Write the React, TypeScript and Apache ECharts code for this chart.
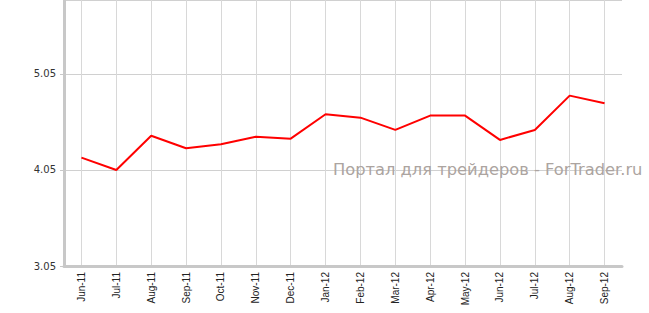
import React, { useEffect, useRef } from "react";
import * as echarts from "echarts";

const categories = ["Jun-11","Jul-11","Aug-11","Sep-11","Oct-11","Nov-11","Dec-11","Jan-12","Feb-12","Mar-12","Apr-12","May-12","Jun-12","Jul-12","Aug-12","Sep-12"];
const values = [4.178, 4.05, 4.407, 4.276, 4.318, 4.397, 4.376, 4.63, 4.595, 4.467, 4.616, 4.616, 4.363, 4.467, 4.824, 4.745];
const yMin = 3.05;
const yMax = 5.82;
const yStep = 1;
const watermark = "Портал для трейдеров - ForTrader.ru";

export default function App() {
  const ref = useRef<HTMLDivElement>(null);
  useEffect(() => {
    document.body.style.margin = "0";
    const chart = echarts.init(ref.current!, null, { renderer: "svg" });
    chart.setOption({
      animation: false,
      grid: { left: 64, right: 27, top: 0, bottom: 47 },
      xAxis: {
        type: "category",
        data: categories,
        boundaryGap: true,
        axisLine: { lineStyle: { color: "#c8c8c8", width: 3 } },
        axisTick: { alignWithLabel: true, length: 4, lineStyle: { color: "#c8c8c8" } },
        splitLine: { show: true, alignWithLabel: true, lineStyle: { color: "#d8d8d8", width: 1 } },
        axisLabel: {
          rotate: 90,
          margin: 6,
          fontSize: 10,
          fontFamily: "Liberation Sans",
          color: "#222",
          interval: 0,
        },
      },
      yAxis: {
        type: "value",
        min: yMin,
        max: yMax,
        interval: yStep,
        axisLine: { show: true, lineStyle: { color: "#c8c8c8", width: 3 } },
        axisTick: { show: true, length: 4, lineStyle: { color: "#c8c8c8" } },
        splitLine: { show: true, lineStyle: { color: "#d0d0d0", width: 1 } },
        axisLabel: {
          showMaxLabel: false,
          margin: 8,
          fontSize: 10,
          fontFamily: "DejaVu Sans",
          color: "#333",
          formatter: (v: number) => v.toFixed(2),
        },
      },
      graphic: [
        {
          type: "text",
          x: 333,
          y: 169,
          z: 10,
          style: {
            text: watermark,
            fill: "#aca4a0",
            font: "16.3px 'DejaVu Sans'",
            textVerticalAlign: "middle",
          },
        },
      ],
      series: [
        {
          type: "line",
          data: values,
          symbol: "none",
          lineStyle: { color: "#ff0000", width: 2 },
        },
      ],
    });
    return () => chart.dispose();
  }, []);
  return <div ref={ref} style={{ width: 649, height: 313 }} />;
}
